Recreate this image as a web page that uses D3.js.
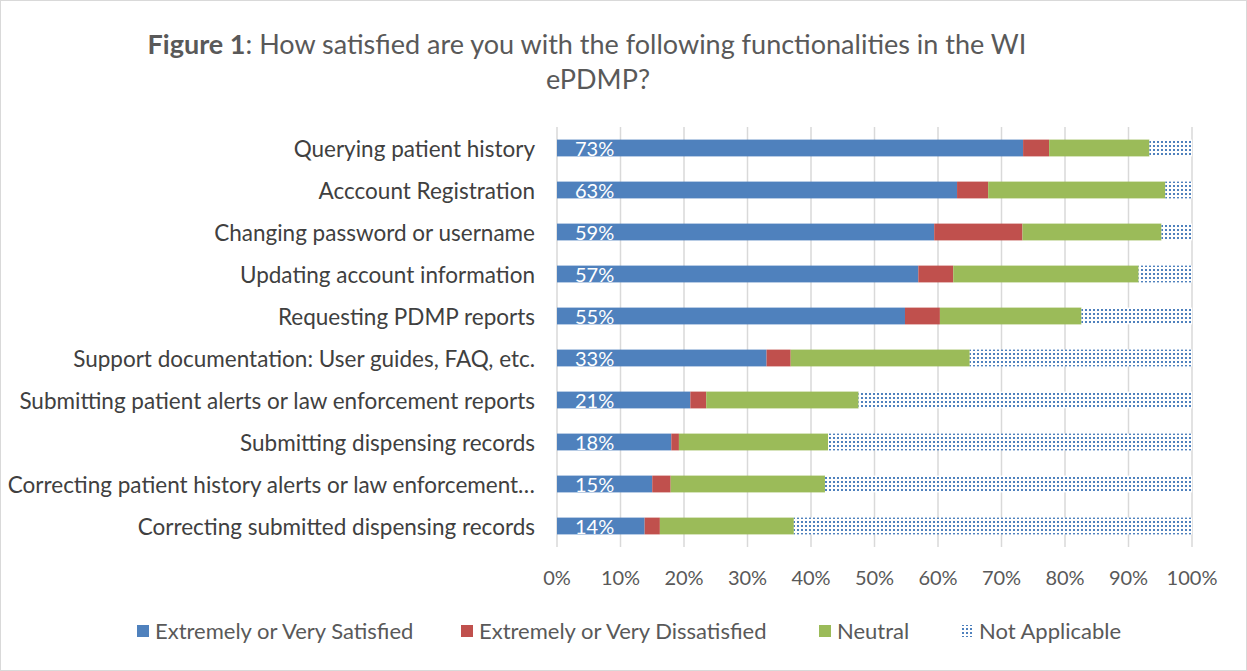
<!DOCTYPE html>
<html>
<head>
<meta charset="utf-8">
<script src="https://cdn.jsdelivr.net/npm/d3@7"></script>
<style>
  html, body { margin: 0; padding: 0; background: #fff; }
  svg { display: block; font-family: Lato, "Liberation Sans", sans-serif; }
</style>
</head>
<body>
<svg id="chart" width="1247" height="671"></svg>
<script>
// Chart data (percent of respondents)
const categories = [
  'Querying patient history',
  'Acccount Registration ',
  'Changing password or username',
  'Updating account information',
  'Requesting PDMP reports',
  'Support documentation: User guides, FAQ, etc.',
  'Submitting patient alerts or law enforcement reports',
  'Submitting dispensing records',
  'Correcting patient history alerts or law enforcement\u2026',
  'Correcting submitted dispensing records'
];
const satisfied    = [73.4, 63.0, 59.4, 56.9, 54.8, 33.0, 21.0, 18.0, 15.0, 13.8];
const dissatisfied = [4.1, 4.9, 13.9, 5.5, 5.5, 3.8, 2.5, 1.2, 2.9, 2.4];
const neutral      = [15.8, 27.9, 21.9, 29.2, 22.3, 28.2, 24.0, 23.5, 24.3, 21.1];
const notApplicable = [6.7, 4.2, 4.8, 8.4, 17.4, 35.0, 52.5, 57.3, 57.8, 62.7];
const seriesNames = ['Extremely or Very Satisfied', 'Extremely or Very Dissatisfied', 'Neutral', 'Not Applicable'];
const xTicks = [0, 10, 20, 30, 40, 50, 60, 70, 80, 90, 100];

(function() {
  'use strict';

  const svg = d3.select('#chart');
  const W = 1247, H = 671;
  const colors = ['#4F81BD', '#C0504D', '#9BBB59', 'url(#naDots)'];

  // dotted fill used by Excel for "Not Applicable"
  const defs = svg.append('defs');
  const pat = defs.append('pattern')
    .attr('id', 'naDots')
    .attr('patternUnits', 'userSpaceOnUse')
    .attr('width', 4).attr('height', 4);
  pat.append('rect').attr('width', 4).attr('height', 4).attr('fill', '#fff');
  pat.append('rect').attr('x', 1).attr('y', 1).attr('width', 2).attr('height', 2).attr('fill', '#4F81BD');

  // outer frame
  svg.append('rect')
    .attr('x', 0.5).attr('y', 0.5)
    .attr('width', W - 1).attr('height', H - 1)
    .attr('fill', '#fff').attr('stroke', '#d9d9d9');

  // title
  const title = svg.append('text')
    .attr('text-anchor', 'middle')
    .attr('fill', '#595959')
    .style('font-size', '27px');
  const t1 = title.append('tspan').attr('x', 587).attr('y', 54);
  t1.append('tspan').attr('font-weight', 'bold').text('Figure 1');
  t1.append('tspan').text(': How satisfied are you with the following functionalities in the WI');
  title.append('tspan').attr('x', 598).attr('y', 89).text('ePDMP?');

  const margin = { left: 557, right: 55, top: 127, bottom: 124 };
  const x = d3.scaleLinear().domain([0, 100]).range([margin.left, W - margin.right]);
  const y = d3.scaleBand().domain(categories).range([margin.top, H - margin.bottom]).paddingInner(0.6).paddingOuter(0.3);

  // gridlines
  svg.append('g')
    .selectAll('line')
    .data(xTicks)
    .join('line')
    .attr('x1', d => x(d)).attr('x2', d => x(d))
    .attr('y1', margin.top).attr('y2', H - margin.bottom)
    .attr('stroke', '#d9d9d9')
    .attr('stroke-width', 1.5);

  // stacked bars
  const rows = categories.map((c, i) => ({
    cat: c,
    vals: [satisfied[i], dissatisfied[i], neutral[i], notApplicable[i]]
  }));
  const stack = d3.stack()
    .keys([0, 1, 2, 3])
    .value((d, k) => d.vals[k]);
  const layers = stack(rows);

  svg.append('g')
    .selectAll('g')
    .data(layers)
    .join('g')
    .attr('fill', d => colors[d.key])
    .selectAll('rect')
    .data(d => d)
    .join('rect')
    .attr('x', d => x(d[0]))
    .attr('y', d => y(d.data.cat))
    .attr('width', d => Math.max(0, x(Math.min(d[1], 100)) - x(d[0])))
    .attr('height', y.bandwidth());

  // data labels (inside base, satisfied only)
  svg.append('g')
    .selectAll('text')
    .data(rows)
    .join('text')
    .attr('x', x(0) + 18)
    .attr('y', d => y(d.cat) + y.bandwidth() / 2 + 1)
    .attr('dy', '0.35em')
    .attr('fill', '#fff')
    .style('font-size', '20px')
    .text(d => Math.round(d.vals[0]) + '%');

  // category axis labels
  svg.append('g')
    .selectAll('text')
    .data(categories)
    .join('text')
    .attr('x', margin.left - 22)
    .attr('y', d => y(d) + y.bandwidth() / 2 + 1)
    .attr('dy', '0.35em')
    .attr('text-anchor', 'end')
    .attr('fill', '#404040')
    .style('font-size', '22.5px')
    .text(d => d);

  // x tick labels
  svg.append('g')
    .selectAll('text')
    .data(xTicks)
    .join('text')
    .attr('x', d => x(d))
    .attr('y', 578)
    .attr('dy', '0.35em')
    .attr('text-anchor', 'middle')
    .attr('fill', '#595959')
    .style('font-size', '20px')
    .text(d => d + '%');

  // legend
  const legendX = [137, 461, 819, 961];
  const legend = svg.append('g')
    .selectAll('g')
    .data(seriesNames)
    .join('g')
    .attr('transform', (d, i) => `translate(${legendX[i]},631)`);
  legend.append('rect')
    .attr('x', 0).attr('y', -6)
    .attr('width', 12).attr('height', 12)
    .attr('fill', (d, i) => colors[i]);
  legend.append('text')
    .attr('x', 18)
    .attr('dy', '0.35em')
    .attr('fill', '#595959')
    .style('font-size', '22px')
    .text(d => d);
})();
</script>
</body>
</html>
